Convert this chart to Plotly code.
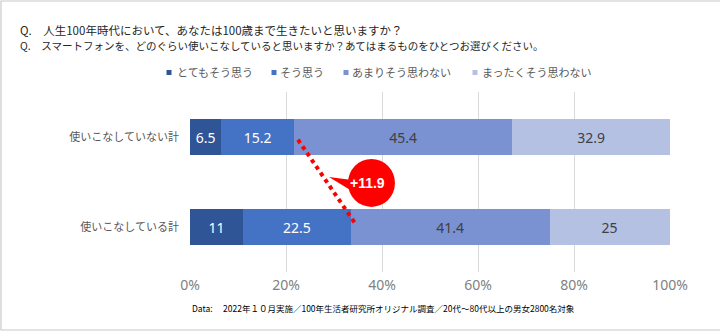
import plotly.graph_objects as go

# ---- data ----
categories = ["使いこなしていない計", "使いこなしている計"]
series_names = ["とてもそう思う", "そう思う", "あまりそう思わない", "まったくそう思わない"]
values = {
    "とてもそう思う": [6.5, 11],
    "そう思う": [15.2, 22.5],
    "あまりそう思わない": [45.4, 41.4],
    "まったくそう思わない": [32.9, 25],
}
diff_label = "+11.9"
x_ticks = [0, 20, 40, 60, 80, 100]
x_tick_labels = ["0%", "20%", "40%", "60%", "80%", "100%"]
title_lines = [
    "Q.\u3000人生100年時代において、あなたは100歳まで生きたいと思いますか？",
    "Q.\u3000スマートフォンを、どのぐらい使いこなしていると思いますか？あてはまるものをひとつお選びください。",
]
footer = "Data:\u3000 2022年１０月実施／100年生活者研究所オリジナル調査／20代～80代以上の男女2800名対象"

# ---- styles ----
colors = ["#2F5597", "#4472C4", "#7A92D1", "#B4C1E2"]
text_colors = ["#FFFFFF", "#FFFFFF", "#404040", "#404040"]
JP = "Noto Sans CJK JP"

W, H = 720, 332
L, R, T, B = 190, 50, 92, 60
PW, PH = W - L - R, H - T - B


def px_x(px):
    return (px - L) / PW


def px_y(py):
    return (H - B - py) / PH


fig = go.Figure()
for name, col, tc in zip(series_names, colors, text_colors):
    fig.add_trace(go.Bar(
        y=categories, x=values[name], name=name, orientation="h",
        marker=dict(color=col, line=dict(width=0)),
        text=[f"{v:g}" for v in values[name]], texttemplate="%{text}", textposition="inside",
        insidetextanchor="middle", textangle=0,
        textfont=dict(family="Noto Sans", size=14, color=tc),
        showlegend=False, hoverinfo="skip",
    ))

# dotted connector between the ends of the two "positive" parts
top_end = values[series_names[0]][0] + values[series_names[1]][0]
bot_end = values[series_names[0]][1] + values[series_names[1]][1]
x0l, y0l = top_end + 0.8, 0.03
x1l, y1l = bot_end + 0.9, 0.96
shapes = [
    dict(type="line", xref="x", yref="y", x0=x0l, y0=y0l, x1=x1l, y1=y1l,
         line=dict(color="#FF0000", width=4, dash="dot")),
]
mx, my = (x0l + x1l) / 2, (y0l + y1l) / 2
# callout bubble
shapes.append(dict(type="path", xref="x", yref="y", xsizemode="pixel", ysizemode="pixel",
                   xanchor=mx, yanchor=my,
                   path="M 2.4 4.6 L 25.4 1.6 L 25.4 -9.4 Z",
                   fillcolor="#FF0000", line=dict(width=0)))
shapes.append(dict(type="circle", xref="x", yref="y", xsizemode="pixel", ysizemode="pixel",
                   xanchor=mx, yanchor=my, x0=44.9 - 23.5, x1=44.9 + 23.5,
                   y0=-1.4 - 24, y1=-1.4 + 24,
                   fillcolor="#FF0000", line=dict(width=0)))

# frame
shapes.append(dict(type="rect", xref="paper", yref="paper",
                   x0=px_x(1), x1=px_x(730), y0=px_y(330), y1=px_y(1),
                   line=dict(color="#C8C8C8", width=1.2), fillcolor="rgba(0,0,0,0)", layer="below"))

annotations = [
    dict(x=mx, y=my, xref="x", yref="y", text=f"<b>{diff_label}</b>", showarrow=False,
         xshift=41.4, yshift=-1.4, font=dict(family="Liberation Sans", size=14, color="#FFFFFF")),
    dict(x=px_x(18), y=px_y(30), xref="paper", yref="paper", xanchor="left", yanchor="middle",
         text=title_lines[0], showarrow=False, font=dict(family=JP, size=11.5, color="#262626")),
    dict(x=px_x(18), y=px_y(45), xref="paper", yref="paper", xanchor="left", yanchor="middle",
         text=title_lines[1], showarrow=False, font=dict(family=JP, size=10.5, color="#262626")),
    dict(x=px_x(190), y=px_y(308), xref="paper", yref="paper", xanchor="left", yanchor="middle",
         text=footer, showarrow=False, font=dict(family=JP, size=8.5, color="#000000")),
]

# custom legend
leg_marker_x = [169, 274, 346, 475]
leg_text_x = [175, 278, 350, 480]
leg_y = 72.5
for name, col, mxp, txp in zip(series_names, colors, leg_marker_x, leg_text_x):
    shapes.append(dict(type="rect", xref="paper", yref="paper",
                       x0=px_x(mxp - 2.5), x1=px_x(mxp + 2.5),
                       y0=px_y(leg_y + 2.5), y1=px_y(leg_y - 2.5),
                       fillcolor=col, line=dict(width=0)))
    annotations.append(dict(x=px_x(txp), y=px_y(leg_y), xref="paper", yref="paper",
                            xanchor="left", yanchor="middle", text=name, showarrow=False,
                            font=dict(family=JP, size=11, color="#595959")))

fig.update_layout(
    width=W, height=H, margin=dict(l=L, r=R, t=T, b=B, autoexpand=False),
    barmode="stack", bargap=0.6,
    paper_bgcolor="white", plot_bgcolor="white",
    showlegend=False,
    shapes=shapes, annotations=annotations,
    xaxis=dict(range=[0, 100], tickmode="array", tickvals=x_ticks, ticktext=x_tick_labels,
               showgrid=True, gridcolor="#D9D9D9", gridwidth=1, zeroline=False, showline=False,
               ticklabelstandoff=3,
               tickfont=dict(family="Noto Sans", size=14, color="#7F7F7F"), fixedrange=True),
    yaxis=dict(categoryorder="array", categoryarray=categories, autorange="reversed",
               showgrid=False, zeroline=False, showline=False, ticklabelstandoff=10,
               tickfont=dict(family=JP, size=11, color="#595959"), fixedrange=True),
)

fig.write_html("out.html")
